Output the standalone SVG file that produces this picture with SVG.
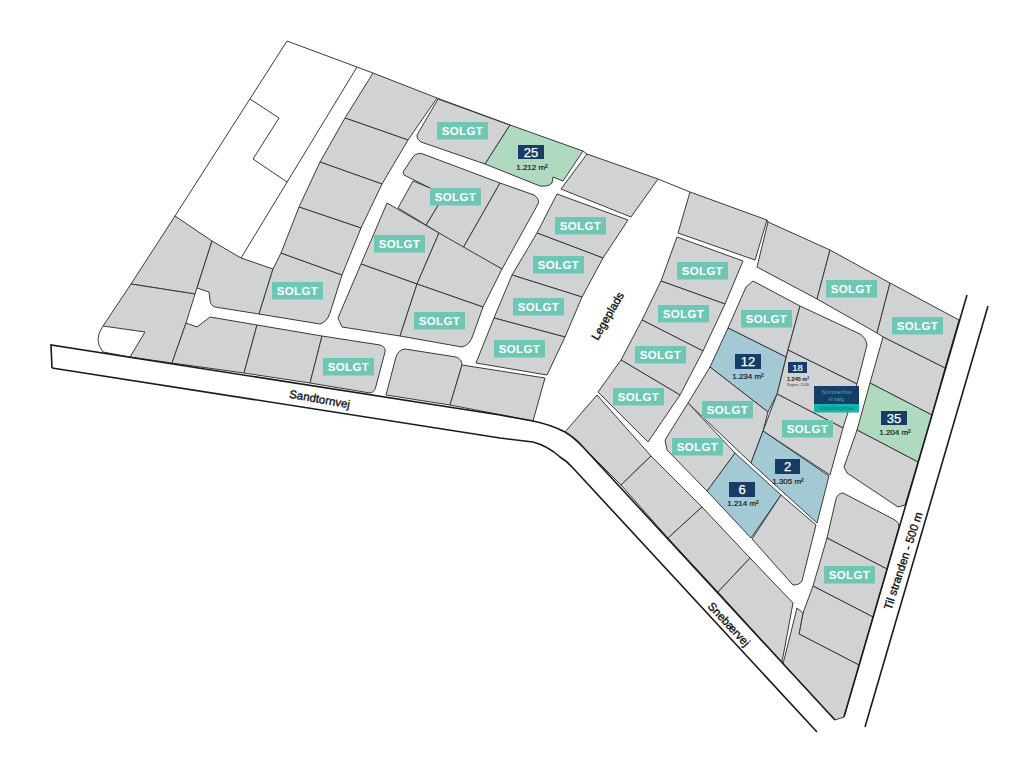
<svg xmlns="http://www.w3.org/2000/svg" width="1024" height="761" viewBox="0 0 1024 761">
<style>
text{font-family:"Liberation Sans",Arial,sans-serif;text-anchor:middle}
.lot{fill:#d1d2d4;stroke:#3a3a3a;stroke-width:1;stroke-linejoin:round}
.blue{fill:#a3c9d4}.green{fill:#afdabf}
.line{fill:none;stroke:#3a3a3a;stroke-width:1;stroke-linejoin:round}
.road{fill:none;stroke:#1a1a1a;stroke-width:1.6}
.sold rect{fill:#6ec6b4;width:51px;height:17.500px}
.sold text{fill:#fff;font-size:11.500px;font-weight:700;letter-spacing:.4px}
.nav{fill:#173c66}
.num{fill:#fff;font-size:13px;stroke:#fff;stroke-width:.25}
.area{fill:#1a1a1a;font-size:8px;stroke:#1a1a1a;stroke-width:.2}
.rd{fill:#111;font-size:11.500px;stroke:#111;stroke-width:.35}
</style>
<rect width="1024" height="761" fill="#fff"/>
<g id="lots">
<polygon class="lot" points="175,216 212,241 195,294 131,284"/>
<polygon class="lot" points="131,284 195,294 186,323 172,363 130,357 145,332 103,326"/>
<path class="lot" d="M212,241L241,258L273,269L259,314L215,307Q210,305 210,300L209,292L197,288Z"/>
<path class="lot" d="M281,253L342,275L330,313Q327,322 320,324L259,314L273,269Z"/>
<polygon class="lot" points="373,73 437,98 408,140 345,118"/>
<polygon class="lot" points="345,118 408,140 382,184 320,162"/>
<polygon class="lot" points="320,162 382,184 361,228 299,207"/>
<polygon class="lot" points="299,207 361,228 342,275 281,253"/>
<path class="lot" d="M186,323L197,327L210,317L257,325L244,373L172,363Z"/>
<polygon class="lot" points="257,325 322,336 310,383 244,373"/>
<path class="lot" d="M322,336L380,345Q386,347 385,352L376,386Q375,392 370,393L310,383Z"/>
<path class="lot" d="M403,172L413,157Q417,152 423,154L500,183L463,248L426,225L443,197L430,188L404,175Z"/>
<polygon class="lot" points="413,181 430,188 443,197 426,225 398,208"/>
<path class="lot" d="M500,183L534,195Q540,199 538,204L502,269L463,248Z"/>
<polygon class="lot" points="387,203 439,233 417,284 361,264"/>
<polygon class="lot" points="439,233 502,269 483,307 417,284"/>
<polygon class="lot" points="361,264 417,284 400,336 342,327 338,318"/>
<path class="lot" d="M417,284L483,307L473,335Q470,345 462,347L400,336Z"/>
<path class="lot" d="M405,349L456,357Q462,359 462,365L450,405L386,395L396,357Q398,350 405,349Z"/>
<polygon class="lot" points="462,365 545,378 533,421 450,405"/>
<polygon class="lot" points="557,194 628,220 603,258 537,233"/>
<polygon class="lot" points="537,233 603,258 582,297 512,275"/>
<polygon class="lot" points="512,275 582,297 565,337 494,318"/>
<polygon class="lot" points="494,318 565,337 547,375 476,363"/>
<polygon class="lot" points="587,154 658,179 631,217 561,189"/>
<path class="lot" d="M438,99L510,125L485,164L421,142Q416,139 417,135Z"/>
<path class="lot green" d="M510,125L583,151L563,181L553,177L552,183Q548,187 540,186L485,164Z"/>
<polygon class="lot" points="690,192 767,220 755,260 678,233"/>
<polygon class="lot" points="768,222 830,250 817,299 757,267"/>
<polygon class="lot" points="830,250 890,283 877,333 817,299"/>
<polygon class="lot" points="890,283 959,320 945,368 883,337 877,333"/>
<polygon class="lot" points="883,337 945,368 932,415 870,383"/>
<polygon class="lot green" points="870,383 932,415 918,462 857,430"/>
<path class="lot" d="M857,430L918,462L905,505L898,507L847,473L844,467Z"/>
<path class="lot" d="M843,493L895,520Q900,523 899,527L887,569L827,538L836,499Q838,493 843,493Z"/>
<polygon class="lot" points="827,538 887,569 873,617 813,586"/>
<polygon class="lot" points="813,586 873,617 859,665 799,634 803,613"/>
<polygon class="lot" points="783,664 797,608 803,613 799,634 859,665 844,717 835,720"/>
<path class="lot" d="M597,395L651,456L621,485L583,447Q575,438 565,432Z"/>
<polygon class="lot" points="651,456 702,507 668,538 621,485"/>
<polygon class="lot" points="702,507 750,558 718,592 668,538"/>
<polygon class="lot" points="750,558 793,603 782,662 718,592"/>
<polygon class="lot" points="677,237 743,261 725,304 661,281"/>
<polygon class="lot" points="661,281 725,304 703,351 642,320"/>
<polygon class="lot" points="642,320 703,351 680,395 621,360"/>
<polygon class="lot" points="621,360 680,395 648,442 598,392"/>
<path class="lot" d="M753,281L800,306L786,357L728,328L746,287Z"/>
<path class="lot" d="M800,306L860,334Q866,338 867,345L857,384L788,350Z"/>
<polygon class="lot" points="788,350 857,384 843,428 777,394"/>
<polygon class="lot" points="777,394 843,428 830,475 763,431"/>
<polygon class="lot blue" points="728,328 786,357 777,394 768,412 710,367"/>
<polygon class="lot" points="710,367 768,412 763,431 751,463 688,403"/>
<polygon class="lot blue" points="763,431 829,476 817,523 751,463"/>
<polygon class="lot blue" points="735,453 781,495 751,538 707,491"/>
<polygon class="lot" points="688,403 735,453 707,491 667,450 665,440"/>
<path class="lot" d="M781,495L816,525L802,581Q800,585 793,585L752,539Z"/>
</g>
<g id="lines">
<path class="line" d="M241,258L357,67M287,41L175,216M287,41L373,73M437,98L510,125M583,151L587,154M658,179L690,192M767,220L768,222"/>
<path class="line" d="M250,99L279,118L253,159L287,182"/>
<path class="line" d="M103,326Q93,340 103,352L130,357"/>
</g>
<g id="roads">
<path class="road" d="M52,368L51,345L500,415L533,421Q552,425 565,432Q575,438 583,447L835,720"/>
<path class="road" d="M52,368L500,438L533,442Q548,446 560,457Q567,461 573,468L817,732"/>
<path class="road" d="M967,295L844,717"/>
<path class="road" d="M988,306L865,727"/>
</g>
<g id="road-labels">
<text class="rd" transform="translate(319,403) rotate(10)">Sandtornvej</text>
<text class="rd" transform="translate(611,318) rotate(-60)">Legeplads</text>
<text class="rd" transform="translate(726,627) rotate(47)">Snebærvej</text>
<text class="rd" transform="translate(907,562) rotate(-72)">Til stranden - 500 m</text>
</g>
<g id="sold">
<g class="sold" transform="translate(437,122)"><rect/><text x="25.500" y="13">SOLGT</text></g>
<g class="sold" transform="translate(430,188)"><rect/><text x="25.500" y="13">SOLGT</text></g>
<g class="sold" transform="translate(374,235)"><rect/><text x="25.500" y="13">SOLGT</text></g>
<g class="sold" transform="translate(272,282)"><rect/><text x="25.500" y="13">SOLGT</text></g>
<g class="sold" transform="translate(414,312)"><rect/><text x="25.500" y="13">SOLGT</text></g>
<g class="sold" transform="translate(323,358)"><rect/><text x="25.500" y="13">SOLGT</text></g>
<g class="sold" transform="translate(555,217)"><rect/><text x="25.500" y="13">SOLGT</text></g>
<g class="sold" transform="translate(533,256)"><rect/><text x="25.500" y="13">SOLGT</text></g>
<g class="sold" transform="translate(513,298)"><rect/><text x="25.500" y="13">SOLGT</text></g>
<g class="sold" transform="translate(494,340)"><rect/><text x="25.500" y="13">SOLGT</text></g>
<g class="sold" transform="translate(677,262)"><rect/><text x="25.500" y="13">SOLGT</text></g>
<g class="sold" transform="translate(658,305)"><rect/><text x="25.500" y="13">SOLGT</text></g>
<g class="sold" transform="translate(635,346)"><rect/><text x="25.500" y="13">SOLGT</text></g>
<g class="sold" transform="translate(613,388)"><rect/><text x="25.500" y="13">SOLGT</text></g>
<g class="sold" transform="translate(741,310)"><rect/><text x="25.500" y="13">SOLGT</text></g>
<g class="sold" transform="translate(826,280)"><rect/><text x="25.500" y="13">SOLGT</text></g>
<g class="sold" transform="translate(892,317)"><rect/><text x="25.500" y="13">SOLGT</text></g>
<g class="sold" transform="translate(702,401)"><rect/><text x="25.500" y="13">SOLGT</text></g>
<g class="sold" transform="translate(782,420)"><rect/><text x="25.500" y="13">SOLGT</text></g>
<g class="sold" transform="translate(672,438)"><rect/><text x="25.500" y="13">SOLGT</text></g>
<g class="sold" transform="translate(824,566)"><rect/><text x="25.500" y="13">SOLGT</text></g>
</g>
<g id="plot-25"><rect class="nav" x="518" y="145" width="26" height="14"/><text class="num" x="531" y="156.500">25</text><text class="area" x="532" y="169.500">1.212 m²</text></g>
<g id="plot-12"><rect class="nav" x="735" y="354" width="26" height="15"/><text class="num" x="748" y="366">12</text><text class="area" x="748" y="378.500">1.234 m²</text></g>
<g id="plot-18"><rect class="nav" x="788" y="362" width="19" height="11"/><text x="797.500" y="371" fill="#fff" font-size="9.500" stroke="#fff" stroke-width=".2">18</text><text x="798" y="380.500" fill="#1a1a1a" font-size="5.500" font-weight="700">1.245 m²</text><text x="798" y="385.500" fill="#444" font-size="4">Sagen: 2030</text></g>
<g id="plot-35"><rect class="nav" x="881" y="411" width="26" height="14"/><text class="num" x="894" y="422.500">35</text><text class="area" x="895" y="434.500">1.204 m²</text></g>
<g id="plot-2"><rect class="nav" x="775" y="459" width="25" height="15"/><text class="num" x="787.500" y="471">2</text><text class="area" x="788" y="483.500">1.305 m²</text></g>
<g id="plot-6"><rect class="nav" x="729" y="482" width="26" height="15"/><text class="num" x="742" y="494">6</text><text class="area" x="743" y="506">1.214 m²</text></g>
<g id="for-sale"><rect class="nav" x="814" y="386" width="45" height="18"/><rect x="814" y="404" width="45" height="8.500" fill="#12b5a8"/>
<text x="836.500" y="393.500" fill="#3fb3b0" font-size="5.500">Sommerhus</text><text x="836.500" y="400.500" fill="#3fb3b0" font-size="5.500">til salg</text><text x="836.500" y="410" fill="#1c6f86" font-size="5.500">Udstillingshus</text></g>
</svg>
